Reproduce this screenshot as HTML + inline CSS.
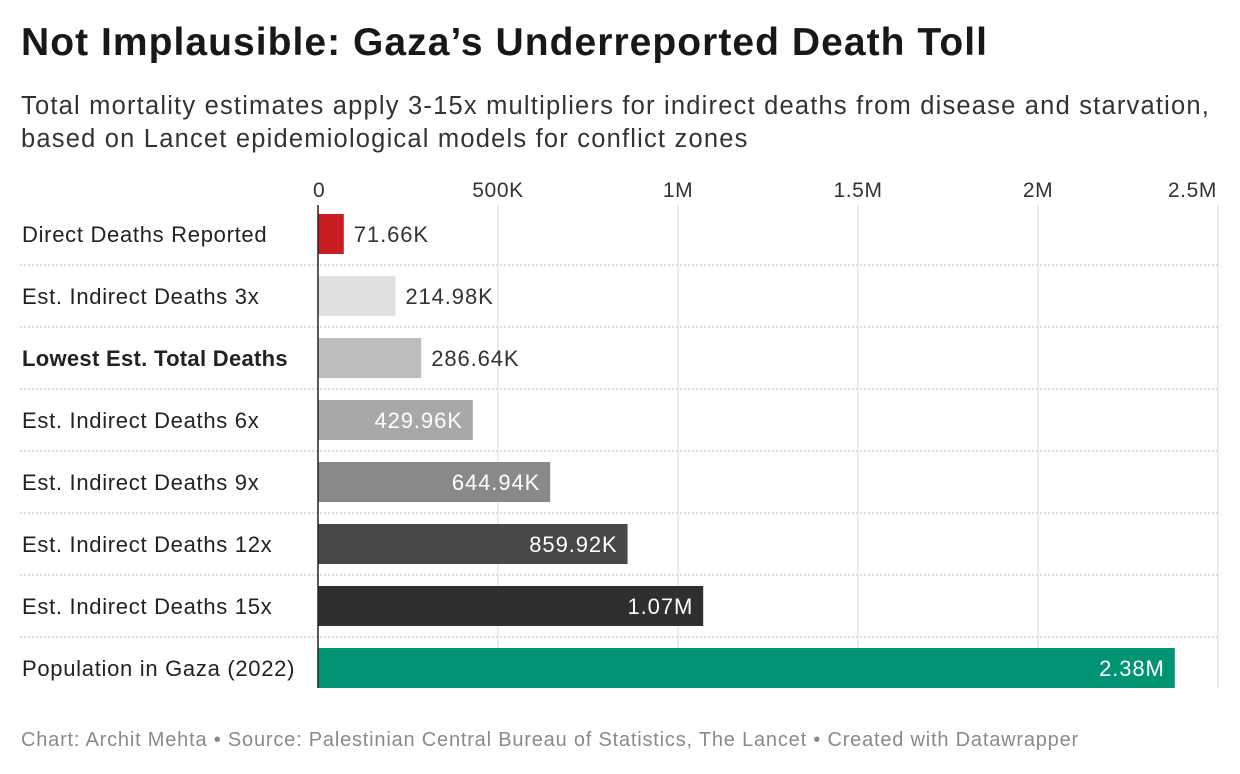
<!DOCTYPE html>
<html><head><meta charset="utf-8"><style>
body{margin:0;background:#fff;font-family:"Liberation Sans",sans-serif;}
#wrap{position:relative;width:1240px;height:774px;overflow:hidden;}
h1{position:absolute;left:21px;top:21px;margin:0;font-size:39px;font-weight:bold;color:#181818;letter-spacing:1.05px}
#sub{position:absolute;left:21px;top:90px;font-size:25.5px;line-height:33px;color:#333;letter-spacing:1.2px;white-space:nowrap}
#foot{position:absolute;left:21px;top:729px;font-size:20px;color:#8a8a8a;letter-spacing:0.8px;white-space:nowrap}
</style></head><body>
<div id="wrap">
<h1>Not Implausible: Gaza’s Underreported Death Toll</h1>
<div id="sub">Total mortality estimates apply 3-15x multipliers for indirect deaths from disease and starvation,<br>based on Lancet epidemiological models for conflict zones</div>
<svg id="svg" width="1240" height="774" style="position:absolute;left:0;top:0"></svg>
<div id="foot">Chart: Archit Mehta • Source: Palestinian Central Bureau of Statistics, The Lancet • Created with Datawrapper</div>
</div>
<script>
const categories=["Direct Deaths Reported","Est. Indirect Deaths 3x","Lowest Est. Total Deaths","Est. Indirect Deaths 6x","Est. Indirect Deaths 9x","Est. Indirect Deaths 12x","Est. Indirect Deaths 15x","Population in Gaza (2022)"];
const values=[71660,214980,286640,429960,644940,859920,1070000,2380000];
const valueLabels=["71.66K","214.98K","286.64K","429.96K","644.94K","859.92K","1.07M","2.38M"];
const ticks=[0,500000,1000000,1500000,2000000,2500000];
const tickLabels=["0","500K","1M","1.5M","2M","2.5M"];
const colors=["#c81e22","#e0e0e0","#bdbdbd","#a8a8a8","#898989","#484848","#2f2f2f","#009473"];
const svg=document.getElementById('svg');const NS="http://www.w3.org/2000/svg";
const x=v=>318+v/2500000*900;
const yc=i=>234+i*62;
function mk(t,a,txt){const e=document.createElementNS(NS,t);for(const k in a)e.setAttribute(k,a[k]);if(txt!==undefined)e.textContent=txt;svg.appendChild(e);return e;}
ticks.forEach((t,i)=>{
 if(i>0){const g=mk('line',{x1:x(t),x2:x(t),y1:205,y2:688,stroke:'#d9d9d9','stroke-width':1});
 }
 const anchor=i==0?'start':(i==ticks.length-1?'end':'middle');
 const tl=mk('text',{x:i==0?x(t)-5:(i==ticks.length-1?x(t)-1:x(t)),y:197,'font-size':21,fill:'#333','text-anchor':anchor,'letter-spacing':0.6},tickLabels[i]);
 
});
categories.forEach((c,i)=>{
 if(i<categories.length-1){const s=mk('line',{x1:20,x2:1218,y1:yc(i)+31,y2:yc(i)+31,stroke:'#bbb','stroke-dasharray':'2,2'});
 }
 const l=mk('text',{x:22,y:yc(i)+8,'font-size':22,fill:'#222','font-weight':i==2?'bold':'normal','letter-spacing':i==2?0.3:0.7},c);
 
 const b=mk('rect',{x:318,y:yc(i)-20,width:x(values[i])-318,height:40,fill:colors[i]});
 
 const inside=i>=3;
 const v=mk('text',{x:inside?x(values[i])-10:x(values[i])+10,y:yc(i)+8,'font-size':22,fill:inside?'#fff':'#333','text-anchor':inside?'end':'start','letter-spacing':0.9},valueLabels[i]);
 
});
const ax=mk('line',{x1:318,x2:318,y1:205,y2:688,stroke:'#222','stroke-width':1.5});

</script>
</body></html>
